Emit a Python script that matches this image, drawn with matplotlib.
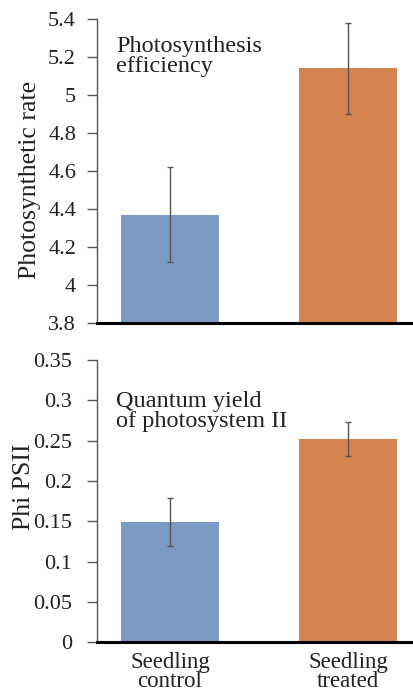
import matplotlib
matplotlib.use("Agg")
import matplotlib.pyplot as plt
import numpy as np

# data
groups = ["Seedling\ncontrol", "Seedling\ntreated"]
rate = [4.37, 5.14]
rate_err = [0.25, 0.24]
phi = [0.149, 0.252]
phi_err = [0.030, 0.021]
colors = ["#7a9ac3", "#d5844f"]

plt.rcParams['font.family'] = ['Liberation Serif', 'DejaVu Serif']

fig = plt.figure(figsize=(4.14, 6.98), dpi=100)
ax1 = fig.add_axes([0.234, 0.537, 0.766, 0.436])
ax2 = fig.add_axes([0.234, 0.080, 0.766, 0.404])

x = np.arange(len(groups))


def style(ax, pad):
    ax.spines['top'].set_visible(False)
    ax.spines['right'].set_visible(False)
    ax.spines['left'].set_color('#555555')
    ax.spines['left'].set_linewidth(1.0)
    ax.spines['bottom'].set_color('black')
    ax.spines['bottom'].set_linewidth(2.2)
    ax.tick_params(axis='y', direction='out', length=7, width=1, color='#555555',
                   labelsize=16, pad=pad, labelcolor='#222222')
    ax.set_xlim(-0.41, 1.37)


# top panel
ax1.bar(x, rate, width=0.55, color=colors)
ax1.errorbar(x, rate, yerr=rate_err, fmt='none', ecolor='#555555',
             elinewidth=1, capsize=2.5, capthick=1)
ax1.set_ylim(3.8, 5.4)
ax1.set_yticks(np.arange(3.8, 5.41, 0.2))
ax1.set_yticklabels(["3.8", "4", "4.2", "4.4", "4.6", "4.8", "5", "5.2", "5.4"])
style(ax1, 8)
ax1.set_xticks([])
ax1.set_ylabel("Photosynthetic rate", fontsize=18.5, color='#222222')
ax1.yaxis.set_label_coords(-0.175, 0.47)
ax1.text(0.06, 0.945, "Photosynthesis\nefficiency", transform=ax1.transAxes,
         fontsize=17.5, va='top', ha='left', linespacing=0.95, color='#222222')

# bottom panel
ax2.bar(x, phi, width=0.55, color=colors)
ax2.errorbar(x, phi, yerr=phi_err, fmt='none', ecolor='#555555',
             elinewidth=1, capsize=2.5, capthick=1)
ax2.set_ylim(0, 0.35)
ax2.set_yticks(np.arange(0, 0.351, 0.05))
ax2.set_yticklabels(["0", "0.05", "0.1", "0.15", "0.2", "0.25", "0.3", "0.35"])
style(ax2, 11)
ax2.set_xticks(x)
ax2.set_xticklabels(groups, fontsize=16.5, linespacing=0.88, color='#222222')
ax2.tick_params(axis='x', length=0, pad=7)
ax2.set_ylabel("Phi PSII", fontsize=18.5, color='#222222')
ax2.yaxis.set_label_coords(-0.195, 0.55)
ax2.text(0.06, 0.89, "Quantum yield\nof photosystem II", transform=ax2.transAxes,
         fontsize=17.5, va='top', ha='left', linespacing=0.95, color='#222222')

fig.savefig("out.png", dpi=100)
